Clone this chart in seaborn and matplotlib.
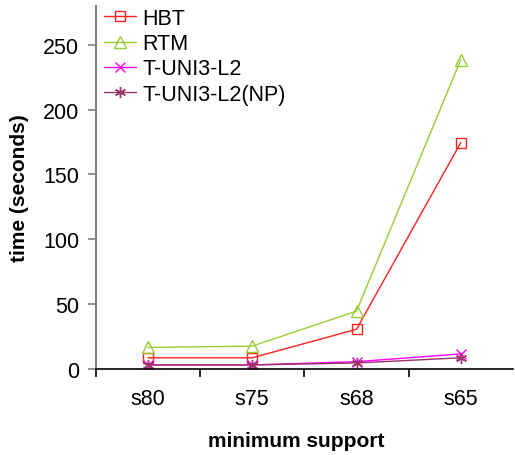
import matplotlib
matplotlib.use("Agg")
import matplotlib.pyplot as plt
import seaborn as sns
import pandas as pd
from matplotlib.ticker import FixedLocator

# === Data ===
supports = ["s80", "s75", "s68", "s65"]
hbt = [8.5, 8.5, 30.5, 174.5]
rtm = [16.5, 17.5, 44.5, 238.5]
tuni = [3.0, 3.0, 5.5, 11.5]
tuni_np = [3.0, 3.0, 4.5, 8.5]

series = {
    "HBT": hbt,
    "RTM": rtm,
    "T-UNI3-L2": tuni,
    "T-UNI3-L2(NP)": tuni_np,
}
colors = {"HBT": "#FF2020", "RTM": "#99CC33", "T-UNI3-L2": "#FF00FF", "T-UNI3-L2(NP)": "#993366"}
markers = {"HBT": "s", "RTM": "^", "T-UNI3-L2": "x", "T-UNI3-L2(NP)": (6, 2, 0)}
msizes = {"HBT": 7, "RTM": 8.5, "T-UNI3-L2": 7, "T-UNI3-L2(NP)": 8}

sns.set_style("white")
plt.rcParams["font.family"] = ["Liberation Sans", "DejaVu Sans"]
plt.rcParams["text.color"] = "black"
plt.rcParams["axes.labelcolor"] = "black"
plt.rcParams["xtick.color"] = "black"
plt.rcParams["ytick.color"] = "black"

fig = plt.figure(figsize=(5.15, 4.56), dpi=100)
ax = fig.add_axes([0.186, 0.189, 0.81, 0.796])

for name, vals in series.items():
    df = pd.DataFrame({"support": supports, "time": vals})
    sns.lineplot(data=df, x="support", y="time", ax=ax, color=colors[name],
                 marker=markers[name], markersize=msizes[name],
                 markerfacecolor="none", markeredgecolor=colors[name],
                 markeredgewidth=1.0, linewidth=1.0, label=name, sort=False)

ax.set_xlim(-0.5, 3.5)
ax.set_ylim(0, 280)
ax.set_yticks([0, 50, 100, 150, 200, 250])
ax.xaxis.set_minor_locator(FixedLocator([-0.5, 0.5, 1.5, 2.5]))
ax.tick_params(axis="x", which="major", length=0, pad=14, labelsize=15.5)
ax.tick_params(axis="x", which="minor", length=6, width=1.2, color="black", direction="out", bottom=True)
ax.tick_params(axis="y", length=6, width=1.2, color="#808080", labelcolor="black",
               direction="out", left=True, labelsize=15.5, pad=6)

sns.despine(ax=ax)
ax.spines["left"].set_color("#808080")
ax.spines["left"].set_linewidth(1.5)
ax.spines["bottom"].set_color("black")
ax.spines["bottom"].set_linewidth(1.2)

ax.set_xlabel("minimum support", fontsize=15, fontweight="bold")
ax.xaxis.set_label_coords(0.48, -0.17)
ax.set_ylabel("time (seconds)", fontsize=15, fontweight="bold", labelpad=10)

ax.legend(loc="upper left", bbox_to_anchor=(-0.012, 1.03), frameon=False, fontsize=15.5,
          handlelength=1.5, handletextpad=0.3, labelspacing=0.2, borderaxespad=0.2)

fig.savefig("out.png", dpi=100)
